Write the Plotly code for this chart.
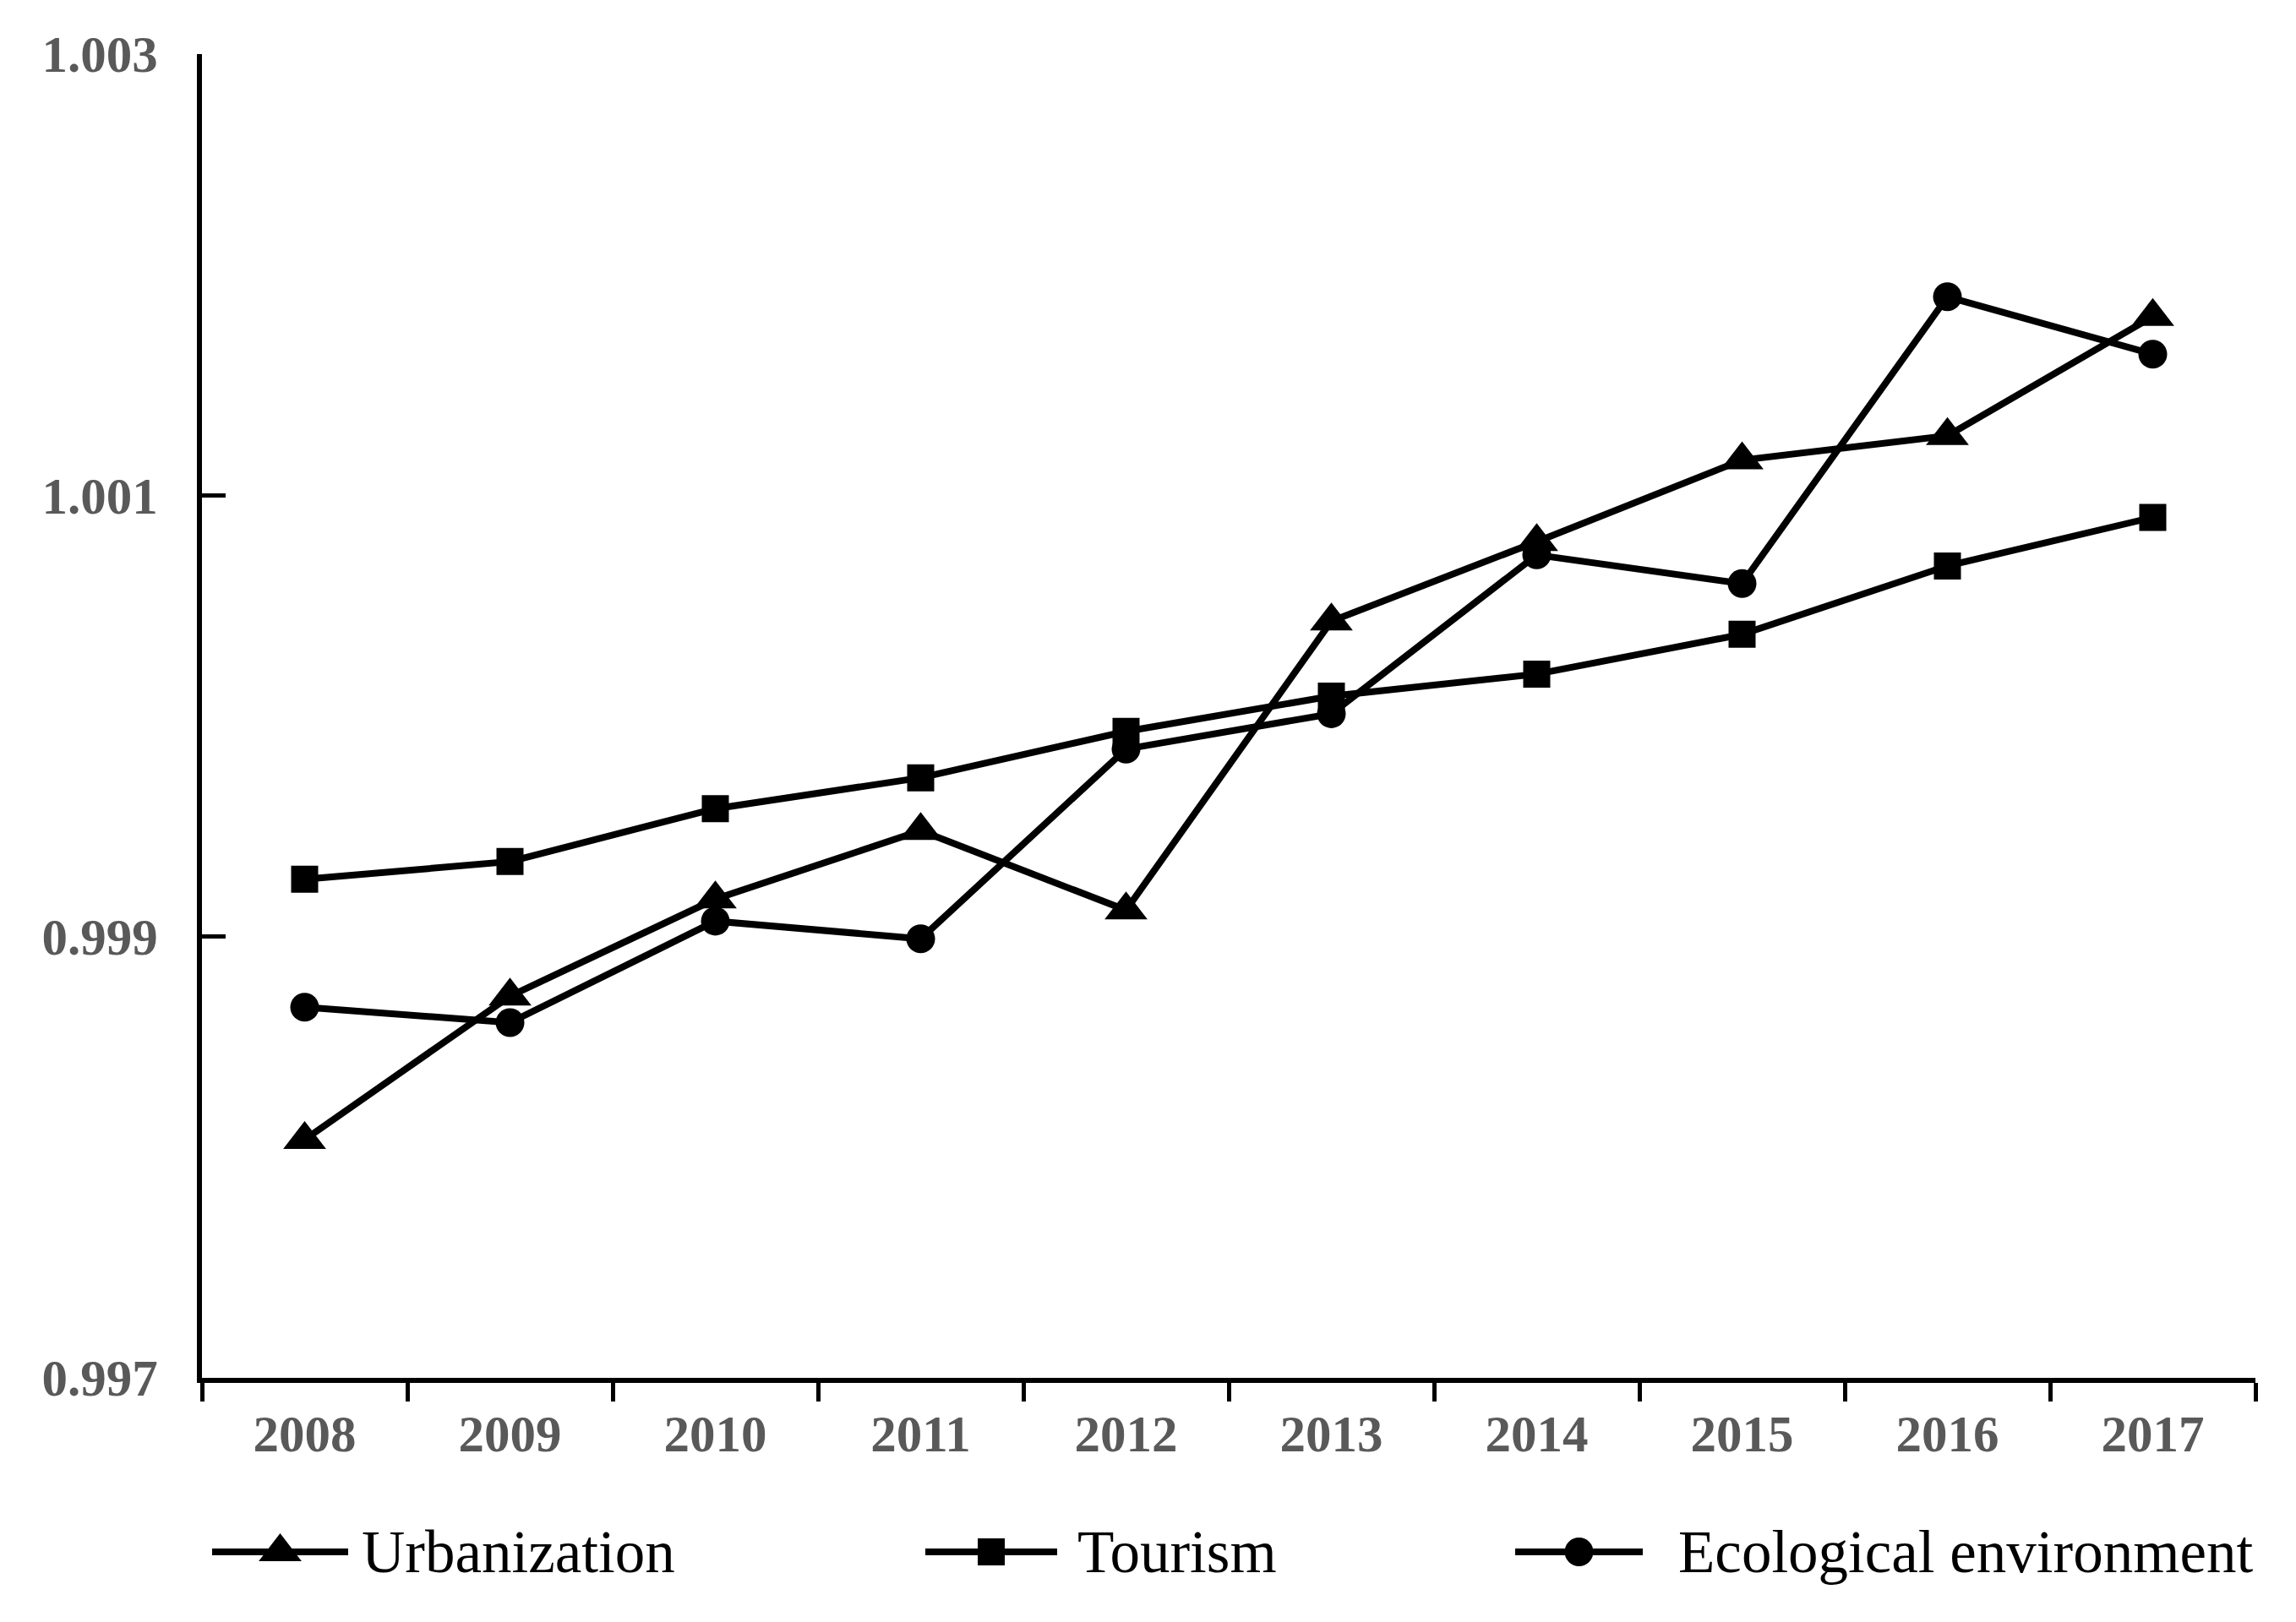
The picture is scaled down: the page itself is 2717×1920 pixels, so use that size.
import plotly.graph_objects as go

years = ["2008", "2009", "2010", "2011", "2012", "2013", "2014", "2015", "2016", "2017"]
urbanization = [0.99808, 0.99873, 0.99917, 0.99948, 0.99912, 1.00043, 1.00079, 1.00116, 1.00127, 1.00181]
tourism = [0.99926, 0.99934, 0.99958, 0.99972, 0.99993, 1.00009, 1.00019, 1.00037, 1.00068, 1.00090]
ecological = [0.99868, 0.99861, 0.99907, 0.99899, 0.99985, 1.00001, 1.00073, 1.00060, 1.00190, 1.00164]
series_names = ["Urbanization", "Tourism", "Ecological environment"]
y_ticks = [0.997, 0.999, 1.001, 1.003]

W, H = 2717, 1920
OFF = 8  # default page body margin
ML, MR, MT, MB = 239 - OFF, 48 + OFF, 64 - OFF, 0
plot_h = H - MT - MB
main_bottom = (H - (1631 - OFF)) / plot_h   # main plot bottom at page pixel y=1631
leg_top = 2 * (H - (1837 - OFF)) / plot_h   # legend row centred at page pixel y=1837

LINE_W = 8
styles = [
    dict(symbol="triangle-up", size=44),
    dict(symbol="square", size=32),
    dict(symbol="circle", size=34),
]
series = [urbanization, tourism, ecological]

fig = go.Figure()
for name, vals, st in zip(series_names, series, styles):
    fig.add_trace(go.Scatter(
        x=years, y=vals, name=name, mode="lines+markers",
        line=dict(color="black", width=LINE_W),
        marker=dict(color="black", symbol=st["symbol"], size=st["size"]),
        showlegend=False, xaxis="x", yaxis="y",
    ))

# custom legend strip (page-pixel-based axis)
leg_x0 = [251, 1095, 1793]
leg_x1 = [412, 1251, 1944]
leg_text_x = [426, 1273, 1984]
for name, st, a, b in zip(series_names, styles, leg_x0, leg_x1):
    fig.add_trace(go.Scatter(
        x=[a, b], y=[0.5, 0.5], mode="lines",
        line=dict(color="black", width=LINE_W),
        showlegend=False, hoverinfo="skip", xaxis="x2", yaxis="y2",
    ))
    fig.add_trace(go.Scatter(
        x=[(a + b) / 2], y=[0.5], mode="markers",
        marker=dict(color="black", symbol=st["symbol"], size=st["size"]),
        showlegend=False, hoverinfo="skip", xaxis="x2", yaxis="y2",
    ))
for name, tx in zip(series_names, leg_text_x):
    fig.add_annotation(
        x=tx, y=0.5, xref="x2", yref="y2", text=name, showarrow=False,
        xanchor="left", yanchor="middle",
        font=dict(family="Liberation Serif, serif", size=71, color="black"),
    )

tick_font = dict(family="Liberation Serif, serif", size=61, color="#595959", weight="bold")

fig.update_layout(
    template="none",
    width=W, height=H,
    margin=dict(l=ML, r=MR, t=MT, b=MB, pad=0, autoexpand=False),
    paper_bgcolor="white", plot_bgcolor="white",
    xaxis=dict(
        type="category", domain=[0, 1], anchor="y", automargin=False,
        range=[-0.5, 9.5], tickson="boundaries",
        ticks="outside", ticklen=22, tickwidth=5, tickcolor="black",
        showline=True, linecolor="black", linewidth=6,
        showgrid=False, zeroline=False,
        tickfont=tick_font, ticklabelstandoff=8,
    ),
    yaxis=dict(
        domain=[main_bottom, 1], anchor="x", automargin=False,
        range=[0.997, 1.003], tickvals=y_ticks, tickformat=".3f",
        ticks="inside", ticklen=28, tickwidth=5, tickcolor="black",
        showline=True, linecolor="black", linewidth=6,
        showgrid=False, zeroline=False,
        tickfont=tick_font, ticklabelstandoff=34,
    ),
    xaxis2=dict(domain=[0, 1], anchor="y2", range=[ML + OFF, W - MR + OFF], visible=False,
                fixedrange=True, automargin=False),
    yaxis2=dict(domain=[0, leg_top], anchor="x2", range=[0, 1], visible=False,
                fixedrange=True, automargin=False),
    showlegend=False,
)

fig.write_html("out.html")
